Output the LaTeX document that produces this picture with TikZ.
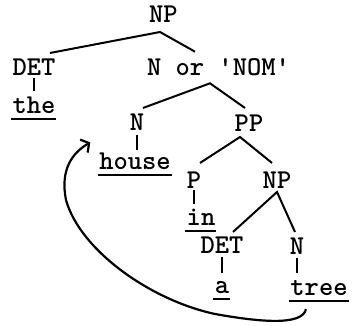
\documentclass[tikz,border=0pt]{standalone}
\usetikzlibrary{arrows.meta}
\begin{document}
\begin{tikzpicture}[x=1pt,y=-1pt,line width=2pt,
    cat/.style={inner sep=0pt,outer sep=0pt,anchor=base,font=\fontsize{27.2}{30}\selectfont\ttfamily\bfseries}]
    \useasboundingbox (0,0) rectangle (357,325);

    \foreach \name/\x/\y/\txt in {NP/163.5/22/NP, DET/34/75/DET, NOM/218.5/75/{N or \textquotesingle NOM\textquotesingle},
        the/34/113/the, Na/137/130/N, PP/249/131/PP, house/135/169/house, P/194/188/P, NPb/277/188/NP,
        in/201/225/in, DETb/222/253/DET, Nb/297/254/N, a/222/293/a, tree/319/295/tree}
      \node[cat] (\name) at (\x,\y) {\txt};

    % branches
    \draw ([shift={(16,-5.4)}]DET.north) -- ([shift={(-3.5,10)}]NP.south) -- ([shift={(-23.5,-6.4)}]NOM.north);
    \draw ([shift={(6,-5.4)}]Na.north) -- ([shift={(-8.5,8)}]NOM.south) -- ([shift={(-4,-6.4)}]PP.north);
    \draw ([shift={(6,-8.4)}]P.north) -- ([shift={(-9,6)}]PP.south) -- ([shift={(-5,-8.4)}]NPb.north);
    \draw ([shift={(11,-4.4)}]DETb.north) -- ([shift={(0,4)}]NPb.south) -- ([shift={(-2,-5.4)}]Nb.north);
    \draw[shorten <=3pt,shorten >=5pt] (DET.south) -- (DET.south |- the.north);
    \draw[shorten <=5pt,shorten >=2pt] (Na.south) -- (Na.south |- house.north);
    \draw[shorten <=2pt,shorten >=5pt] (P.south) -- (P.south |- in.north);
    \draw[shorten <=4pt,shorten >=8pt] (DETb.south) -- (DETb.south |- a.north);
    \draw[shorten <=4pt,shorten >=7pt] (Nb.south) -- (Nb.south |- tree.north);

    % underlined words
    \foreach \w in {the,house,in,a,tree}
      \draw ([shift={(-1.5,6)}]\w.south west) -- ([shift={(1,6)}]\w.south east);

    \draw[line width=2.2pt,-{Straight Barb[length=6pt,width=15pt]}]
      ([shift={(-13,14)}]tree.south) .. controls (302,326) and (260,322) .. (215,314)
      .. controls (150,300) and (80,250) .. (66,200)
      .. controls (60,170) and (72,153) .. ([shift={(-9,-10)}]house.north west);
  \end{tikzpicture}
\end{document}
